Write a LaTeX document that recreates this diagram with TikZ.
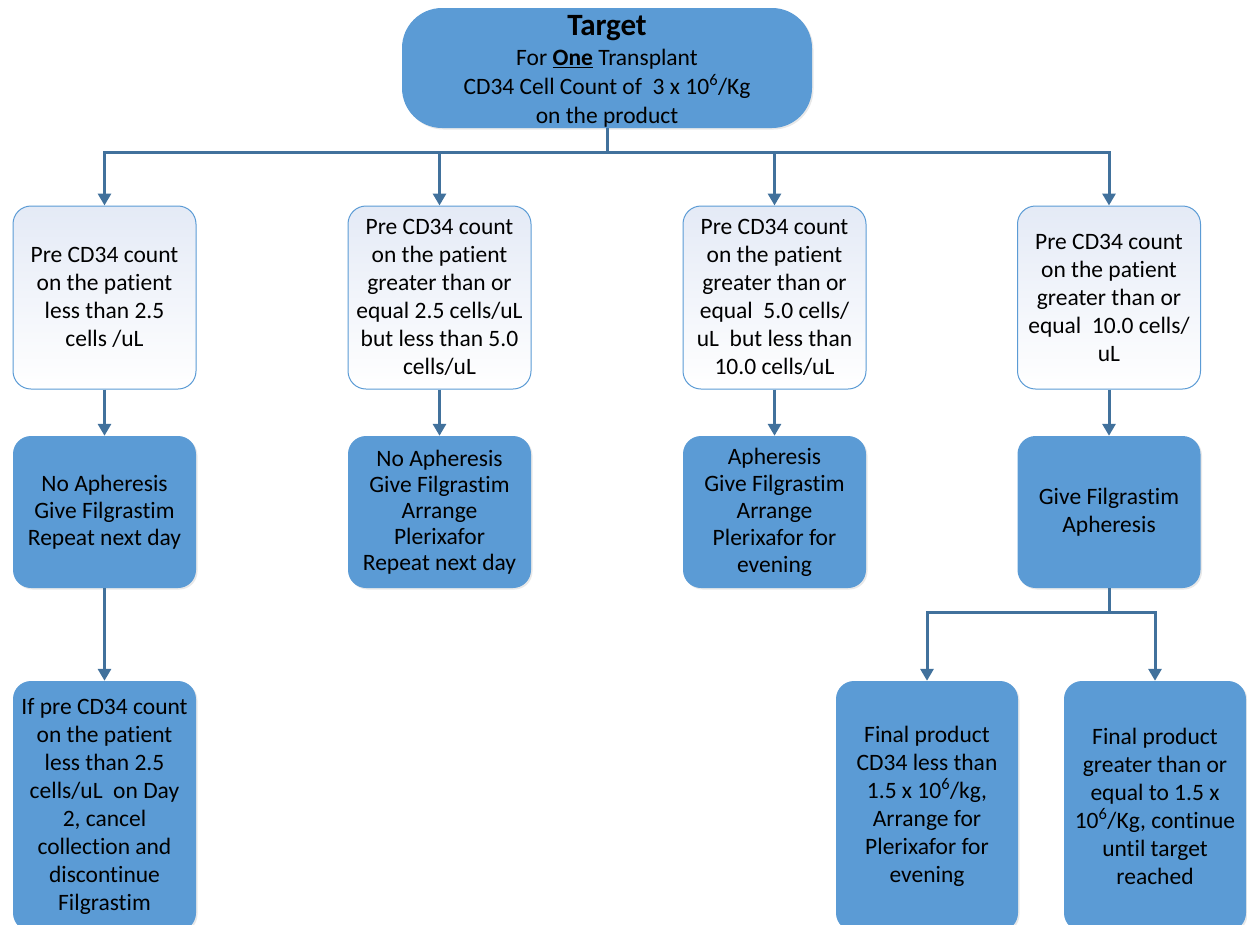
\documentclass[tikz,border=0pt]{standalone}
\usepackage{fontspec}
\setmainfont{Carlito}[Ligatures={NoCommon}]
\usetikzlibrary{arrows.meta,shadows}
\definecolor{boxblue}{HTML}{5B9BD5}
\definecolor{linec}{HTML}{41719C}
\definecolor{lightfill}{HTML}{E4EAF6}
\tikzset{
  base/.style={rounded corners=18pt, inner sep=0pt, align=center, text=black,
    font=\fontsize{23.5}{28}\selectfont},
  bluebox/.style={base, fill=boxblue,
    drop shadow={opacity=0.18, shadow xshift=1.5pt, shadow yshift=-1.5pt}},
  whitebox/.style={base, draw=boxblue, line width=1pt, top color=lightfill, bottom color=white},
  conn/.style={draw=linec, line width=3pt},
  arr/.style={conn, -{Triangle[width=13pt,length=12pt]}},
}
\begin{document}
\begin{tikzpicture}[x=1pt,y=-1pt]
\useasboundingbox (0,0) rectangle (1247,924);
% top box
\node[bluebox, rounded corners=40pt, minimum width=410pt, minimum height=120pt] (top) at (607,68) {};
\node[base, font=\fontsize{23.5}{29}\selectfont] (toptext) at (607,71)
  {{\fontsize{31}{32}\selectfont\bfseries Target}\\[1pt]
   For \underline{\textbf{One}} Transplant\\
   CD34 Cell Count of\ \ 3 x 10\textsuperscript{6}/Kg\\
   on the product};
% row 1
\node[whitebox, minimum width=183pt, minimum height=183pt] (r1a) at (104.5,297.5)
  {Pre CD34 count\\on the patient\\less than 2.5\\cells /uL};
\node[whitebox, minimum width=183pt, minimum height=183pt] (r1b) at (439.5,297.5)
  {Pre CD34 count\\on the patient\\greater than or\\equal 2.5 cells/uL\\but less than 5.0\\cells/uL};
\node[whitebox, minimum width=183pt, minimum height=183pt] (r1c) at (774.5,297.5)
  {Pre CD34 count\\on the patient\\greater than or\\equal\ \ 5.0 cells/\\uL\ \ but less than\\10.0 cells/uL};
\node[whitebox, minimum width=183pt, minimum height=183pt] (r1d) at (1109,297.5)
  {Pre CD34 count\\on the patient\\greater than or\\equal\ \ 10.0 cells/\\uL};
% row 2
\node[bluebox, minimum width=183pt, minimum height=152pt, font=\fontsize{23.5}{27}\selectfont] (r2a) at (104.5,512)
  {No Apheresis\\Give Filgrastim\\Repeat next day};
\node[bluebox, minimum width=183pt, minimum height=152pt, font=\fontsize{23.5}{26}\selectfont] (r2b) at (439.5,512)
  {No Apheresis\\Give Filgrastim\\Arrange\\Plerixafor\\Repeat next day};
\node[bluebox, minimum width=183pt, minimum height=152pt, font=\fontsize{23.5}{27}\selectfont] (r2c) at (774.5,512)
  {Apheresis\\Give Filgrastim\\Arrange\\Plerixafor for\\evening};
\node[bluebox, minimum width=183pt, minimum height=152pt] (r2d) at (1109,512)
  {Give Filgrastim\\Apheresis};
% row 3
\node[bluebox, minimum width=183pt, minimum height=250pt] (r3a) at (104.5,806)
  {If pre CD34 count\\on the patient\\less than 2.5\\cells/uL\ \ on Day\\2, cancel\\collection and\\discontinue\\Filgrastim};
\node[bluebox, minimum width=182pt, minimum height=250pt] (r3b) at (927,806)
  {Final product\\CD34 less than\\1.5 x 10\textsuperscript{6}/kg,\\Arrange for\\Plerixafor for\\evening};
\node[bluebox, minimum width=182pt, minimum height=250pt] (r3c) at (1155,806)
  {Final product\\greater than or\\equal to 1.5 x\\10\textsuperscript{6}/Kg, continue\\until target\\reached};
% connectors
\coordinate (hub) at (607,152);
\coordinate (hub2) at (1109,612);
\draw[arr] (top.south) -- (hub) -| (r1a.north);
\draw[arr] (top.south) -- (hub) -| (r1b.north);
\draw[arr] (top.south) -- (hub) -| (r1c.north);
\draw[arr] (top.south) -- (hub) -| (r1d.north);
\draw[arr] (r1a) -- (r2a);
\draw[arr] (r1b) -- (r2b);
\draw[arr] (r1c) -- (r2c);
\draw[arr] (r1d) -- (r2d);
\draw[arr] (r2a) -- (r3a);
\draw[arr] (r2d.south) -- (hub2) -| (r3b.north);
\draw[arr] (r2d.south) -- (hub2) -| (r3c.north);
\end{tikzpicture}
\end{document}
